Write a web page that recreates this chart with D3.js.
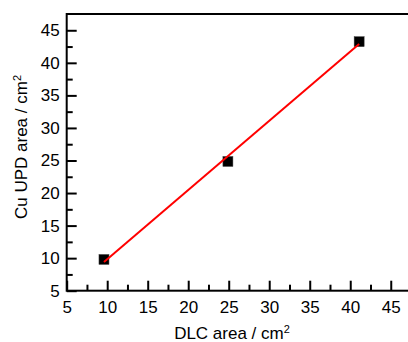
<!DOCTYPE html>
<html>
<head>
<meta charset="utf-8">
<script src="https://cdn.jsdelivr.net/npm/d3@7"></script>
<style>
  body { margin: 0; background: #fff; }
  svg { display: block; font-family: "Liberation Sans", Arial, sans-serif; }
</style>
</head>
<body>
<div id="chart"></div>
<script>
// measured points (DLC area vs Cu UPD area)
const dlcArea = [9.6, 24.9, 41.1];
const cuUpdArea = [9.8, 24.85, 43.25];
// linear fit, endpoints
const fitX = [9.6, 41.1];
const fitY = [9.4, 42.9];
const majorTicks = [5, 10, 15, 20, 25, 30, 35, 40, 45];
const minorTicks = [7.5, 12.5, 17.5, 22.5, 27.5, 32.5, 37.5, 42.5];

const svgWidth = 408;
const svgHeight = 342;
const fontSize = 17;

const svg = d3.select('#chart')
    .append('svg')
    .attr('width', svgWidth)
    .attr('height', svgHeight);

const plotLeft = 66.7, plotRight = 411, plotTop = 14, plotBottom = 290.7;

const x = d3.scaleLinear().domain([5, 47.5]).range([plotLeft, plotRight]);
const y = d3.scaleLinear().domain([5, 47.5]).range([plotBottom, plotTop]);

// minor ticks first
svg.append('g')
    .attr('transform', `translate(0, ${plotBottom})`)
    .call(d3.axisBottom(x).tickValues(minorTicks).tickSize(-6).tickFormat(''))
    .call(g => g.select('.domain').remove())
    .call(g => g.selectAll('line').attr('stroke-width', 2));

svg.append('g')
    .attr('transform', `translate(${plotLeft}, 0)`)
    .call(d3.axisLeft(y).tickValues(minorTicks).tickSize(-6).tickFormat(''))
    .call(g => g.select('.domain').remove())
    .call(g => g.selectAll('line').attr('stroke-width', 2));

const xAxis = svg.append('g')
    .attr('transform', `translate(0, ${plotBottom})`)
    .call(d3.axisBottom(x).tickValues(majorTicks).tickSize(-10).tickPadding(10));
xAxis.select('.domain').remove();
xAxis.selectAll('line').attr('stroke-width', 2);
xAxis.selectAll('text')
    .attr('font-size', fontSize)
    .attr('font-family', '"Liberation Sans", Arial, sans-serif')
    .attr('fill', '#000');

const yAxis = svg.append('g')
    .attr('transform', `translate(${plotLeft}, 0)`)
    .call(d3.axisLeft(y).tickValues(majorTicks).tickSize(-10).tickPadding(7));
yAxis.select('.domain').remove();
yAxis.selectAll('line').attr('stroke-width', 2);
yAxis.selectAll('text')
    .attr('font-size', fontSize)
    .attr('font-family', '"Liberation Sans", Arial, sans-serif')
    .attr('fill', '#000');

// frame
svg.append('rect')
    .attr('x', plotLeft)
    .attr('y', plotTop)
    .attr('width', plotRight - plotLeft)
    .attr('height', plotBottom - plotTop)
    .attr('fill', 'none')
    .attr('stroke', '#000')
    .attr('stroke-width', 2);

// square markers
const markerSize = 10;
svg.selectAll('rect.point')
    .data(dlcArea)
    .enter()
    .append('rect')
    .attr('class', 'point')
    .attr('x', (d) => x(d) - markerSize / 2)
    .attr('y', (d, i) => y(cuUpdArea[i]) - markerSize / 2)
    .attr('width', markerSize)
    .attr('height', markerSize)
    .attr('fill', '#000')
    .attr('stroke', '#444')
    .attr('stroke-width', 0.5);

// fit line, drawn over the markers
svg.append('line')
    .attr('x1', x(fitX[0]))
    .attr('y1', y(fitY[0]))
    .attr('x2', x(fitX[1]))
    .attr('y2', y(fitY[1]))
    .attr('stroke', '#ff0000')
    .attr('stroke-width', 2);

// axis titles
const xTitle = svg.append('text')
    .attr('x', 232)
    .attr('y', 339)
    .attr('text-anchor', 'middle')
    .attr('font-size', fontSize);
xTitle.append('tspan').text('DLC area / cm');
xTitle.append('tspan').attr('font-size', 11).attr('dy', -6).text('2');

const yTitle = svg.append('text')
    .attr('transform', `translate(27, 147) rotate(-90)`)
    .attr('text-anchor', 'middle')
    .attr('font-size', fontSize);
yTitle.append('tspan').text('Cu UPD area / cm');
yTitle.append('tspan').attr('font-size', 11).attr('dy', -6).text('2');
</script>
</body>
</html>
